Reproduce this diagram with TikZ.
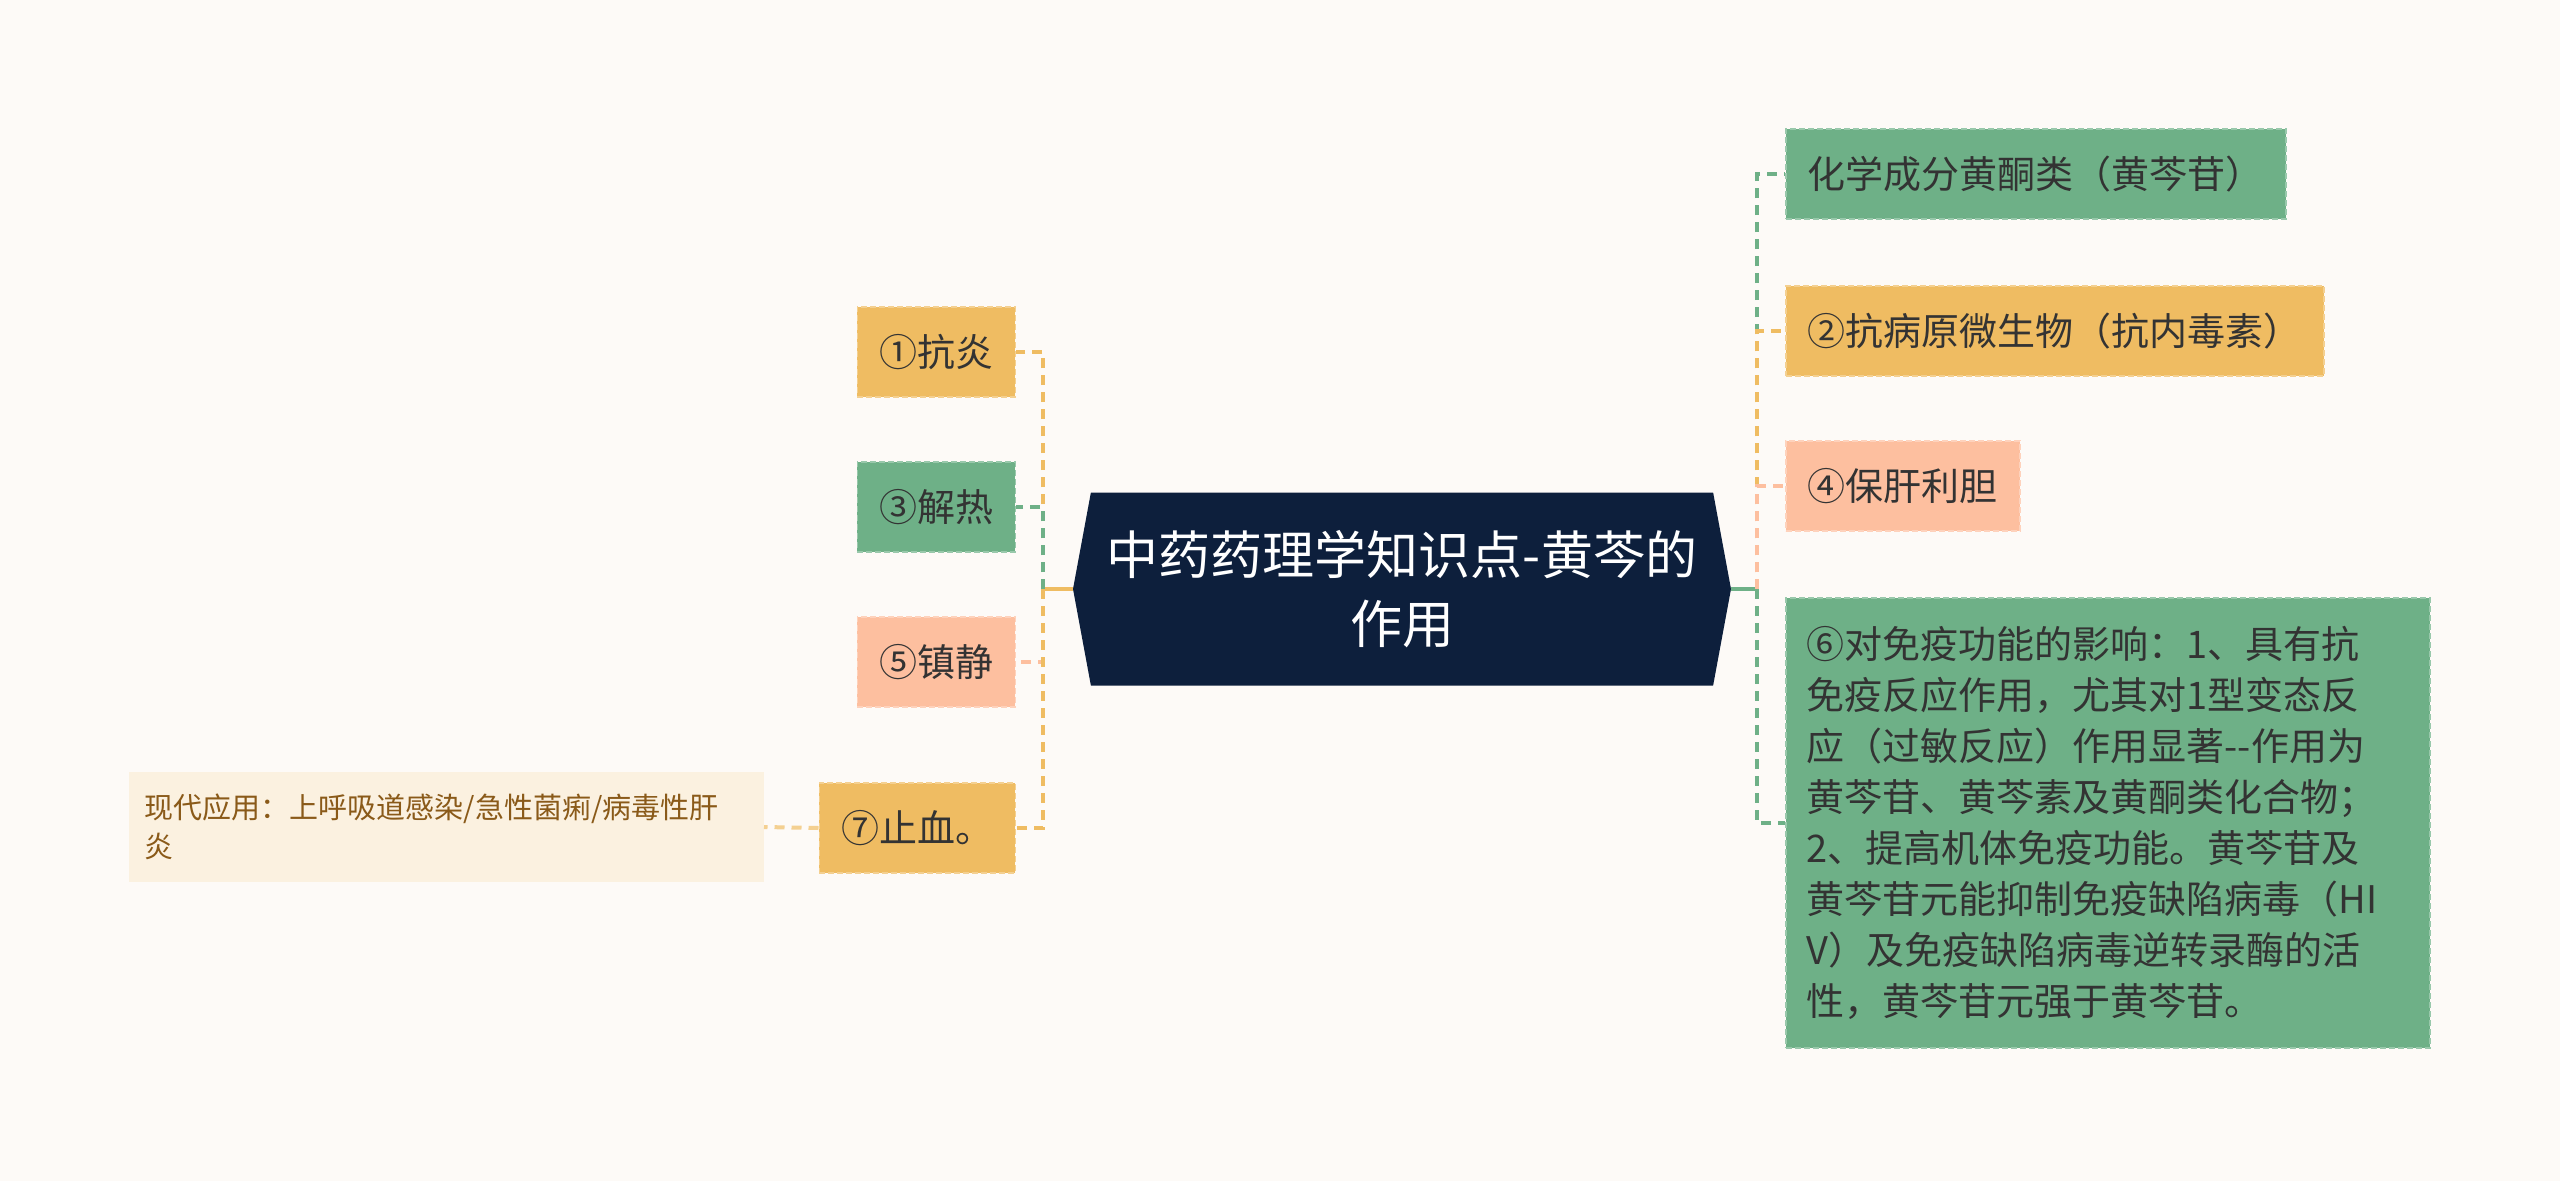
\documentclass[tikz,border=0pt]{standalone}
\usepackage{fontspec}
\newfontfamily\cjk{Noto Sans CJK SC}
\usetikzlibrary{shapes.symbols}
\definecolor{bgcream}{HTML}{FDFAF7}
\definecolor{navy}{HTML}{0D1F3C}
\definecolor{leafgreen}{HTML}{6EB087}
\definecolor{leaforange}{HTML}{EFBC62}
\definecolor{leafsalmon}{HTML}{FDBF9F}
\definecolor{notecream}{HTML}{FBF1E0}
\definecolor{notebrown}{HTML}{8A5A19}
\definecolor{inkgray}{HTML}{333333}
\begin{document}
\begin{tikzpicture}[
        x=1pt, y=-1pt,
        font=\cjk,
        title/.style={signal, signal to=west and east, signal pointer angle=159,
            fill=navy, text=white, minimum width=658pt, minimum height=193pt,
            align=center, font=\cjk\fontsize{52}{69}\selectfont},
        topic/.style={draw=#1!70!white, dash pattern=on 6pt off 3pt, line width=1.5pt,
            fill=#1, text=inkgray, inner xsep=22pt, inner ysep=0pt,
            minimum height=90pt, font=\cjk\fontsize{38}{51}\selectfont},
        note/.style={fill=notecream, text=notebrown, align=left, text width=603pt,
            inner xsep=16pt, minimum height=110pt, font=\cjk\fontsize{29}{39}\selectfont},
        link/.style={draw=#1, line width=4pt, dash pattern=on 10pt off 7pt},
        stub/.style={draw=#1, line width=4pt}
    ]
    \fill[bgcream] (0,0) rectangle (2560,1181);
    \useasboundingbox (0,0) rectangle (2560,1181);
    % root
    \node[title] (root) at (1402,589) {中药药理学知识点-黄芩的\\作用};
    \coordinate (lhub) at (1043,589);
    \coordinate (rhub) at (1757,589);
    % left branch
    \node[topic=leaforange, anchor=east] (kangyan) at (1016,352) {①抗炎};
    \node[topic=leafgreen, anchor=east] (jiere) at (1016,507) {③解热};
    \node[topic=leafsalmon, anchor=east] (zhenjing) at (1016,662) {⑤镇静};
    \node[topic=leaforange, anchor=east] (zhixue) at (1016,828) {⑦止血。};
    \node[note, anchor=east] (xiandai) at (764,827) {现代应用：上呼吸道感染/急性菌痢/病毒性肝\\炎};
    % right branch
    \node[topic=leafgreen, anchor=west] (huaxue) at (1785,174) {化学成分黄酮类（黄芩苷）};
    \node[topic=leaforange, anchor=west] (kangbing) at (1785,331) {②抗病原微生物（抗内毒素）};
    \node[topic=leafsalmon, anchor=west] (baogan) at (1785,486) {④保肝利胆};
    \node[topic=leafgreen, anchor=west, align=left, text width=602pt,
        inner xsep=21pt, minimum height=450pt] (mianyi) at (1785,823) {⑥对免疫功能的影响：1、具有抗\\
        免疫反应作用，尤其对1型变态反\\
        应（过敏反应）作用显著-{}-作用为\\
        黄芩苷、黄芩素及黄酮类化合物；\\
        2、提高机体免疫功能。黄芩苷及\\
        黄芩苷元能抑制免疫缺陷病毒（HI\\
        V）及免疫缺陷病毒逆转录酶的活\\
        性，黄芩苷元强于黄芩苷。};
    % connectors
    \draw[stub=leaforange] (root.west) -- (lhub);
    \draw[link=leaforange] (lhub) |- (kangyan.east);
    \draw[link=leafgreen] (lhub) |- (jiere.east);
    \draw[link=leafsalmon] (lhub) |- (zhenjing.east);
    \draw[link=leaforange] (lhub) |- (zhixue.east);
    \draw[link=leaforange!70!white] (zhixue.west) -- (xiandai.east);
    \draw[stub=leafgreen] (root.east) -- (rhub);
    \draw[link=leafgreen] (rhub) |- (huaxue.west);
    \draw[link=leaforange] (rhub) |- (kangbing.west);
    \draw[link=leafsalmon] (rhub) |- (baogan.west);
    \draw[link=leafgreen] (rhub) |- (mianyi.west);
\end{tikzpicture}
\end{document}
